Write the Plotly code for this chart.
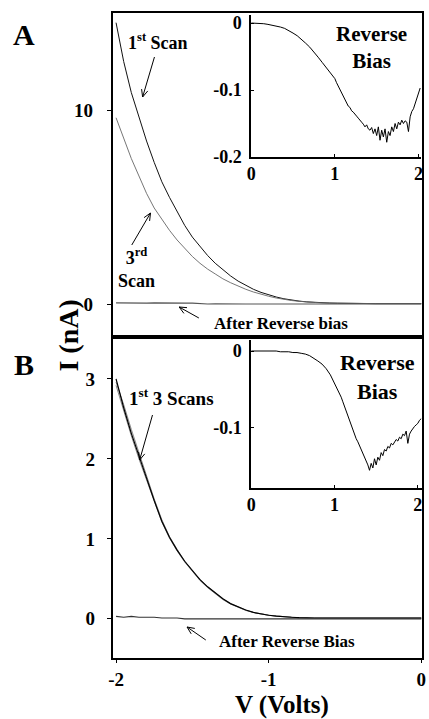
import numpy as np
import plotly.graph_objects as go

# ---------------- data ----------------
V = np.round(np.arange(-2.0, 0.001, 0.05), 2)  # sampling grid (Volts)

scanA_1st = [14.5, 12.5, 10.9, 9.6, 8.4, 7.3, 6.3, 5.5, 4.75, 4.05, 3.45, 2.95, 2.5, 2.1, 1.75,
             1.45, 1.18, 0.95, 0.76, 0.6, 0.47, 0.36, 0.27, 0.2, 0.15, 0.11, 0.08, 0.06, 0.05, 0.04,
             0.03, 0.03, 0.03, 0.02, 0.02, 0.02, 0.02, 0.02, 0.02, 0.02, 0.02]
scanA_3rd = [9.6, 8.5, 7.5, 6.6, 5.7, 4.95, 4.35, 3.8, 3.3, 2.85, 2.45, 2.1, 1.8, 1.55, 1.3,
             1.1, 0.92, 0.76, 0.62, 0.5, 0.4, 0.31, 0.24, 0.18, 0.14, 0.1, 0.08, 0.06, 0.05, 0.04,
             0.03, 0.03, 0.03, 0.02, 0.02, 0.02, 0.02, 0.02, 0.02, 0.02, 0.02]
afterA = [0.06, 0.05, 0.06, 0.05, 0.05, 0.06, 0.05, 0.05, 0.06, 0.05, 0.05, 0.01, 0.0, 0.01, 0.0,
          0.0, 0.01, 0.0, 0.0, 0.01, 0.0, 0.0, 0.0, 0.01, 0.0, 0.0, 0.0, 0.0, 0.01, 0.0,
          0.0, 0.0, 0.0, 0.0, 0.01, 0.0, 0.0, 0.0, 0.0, 0.0, 0.0]

scanB_1 = [3.0, 2.64, 2.32, 2.03, 1.76, 1.48, 1.22, 1.02, 0.86, 0.72, 0.6, 0.49, 0.4, 0.32, 0.25,
           0.19, 0.145, 0.11, 0.08, 0.06, 0.045, 0.035, 0.025, 0.02, 0.015, 0.01, 0.01, 0.01, 0.01, 0.01,
           0.01, 0.01, 0.01, 0.01, 0.01, 0.01, 0.01, 0.01, 0.01, 0.01, 0.01]
scanB_2 = [2.96, 2.68, 2.37, 2.07, 1.79, 1.5, 1.24, 1.03, 0.87, 0.72, 0.6, 0.49, 0.4, 0.32, 0.25,
           0.19, 0.145, 0.11, 0.08, 0.06, 0.045, 0.035, 0.025, 0.02, 0.015, 0.01, 0.01, 0.01, 0.01, 0.01,
           0.01, 0.01, 0.01, 0.01, 0.01, 0.01, 0.01, 0.01, 0.01, 0.01, 0.01]
scanB_3 = [2.92, 2.6, 2.29, 2.0, 1.73, 1.46, 1.21, 1.01, 0.85, 0.71, 0.59, 0.48, 0.39, 0.31, 0.24,
           0.185, 0.14, 0.105, 0.08, 0.06, 0.045, 0.035, 0.025, 0.02, 0.015, 0.01, 0.01, 0.01, 0.01, 0.01,
           0.01, 0.01, 0.01, 0.01, 0.01, 0.01, 0.01, 0.01, 0.01, 0.01, 0.01]
afterB = [0.03, 0.02, 0.03, 0.02, 0.02, 0.02, 0.01, 0.01, 0.01, 0.0, 0.0, 0.0, 0.0, 0.0, 0.0,
          0.0, 0.0, 0.0, 0.0, 0.0, 0.0, 0.0, 0.0, 0.0, 0.0, 0.0, 0.0, 0.0, 0.0, 0.0,
          0.0, 0.0, 0.0, 0.0, 0.0, 0.0, 0.0, 0.0, 0.0, 0.0, 0.0]

# inset (reverse bias) sampling grids
Vr_A = np.round(np.concatenate([np.arange(0, 0.99, 0.05), np.arange(1.0, 2.021, 0.02)]), 2)
Vr_B = np.round(np.concatenate([np.arange(0, 0.99, 0.05), np.arange(1.0, 2.041, 0.02)]), 2)

revA = [0, 0, -0.001, -0.001, -0.002, -0.003, -0.004, -0.006, -0.008, -0.011, -0.015, -0.019,
        -0.024, -0.03, -0.036, -0.043, -0.051, -0.059, -0.067, -0.075,
        -0.083, -0.089, -0.094, -0.1, -0.106, -0.11, -0.116, -0.119, -0.124, -0.126, -0.131,
        -0.133, -0.137, -0.139, -0.142, -0.146, -0.148, -0.151, -0.155, -0.152, -0.158, -0.16,
        -0.156, -0.165, -0.158, -0.168, -0.155, -0.175, -0.16, -0.17, -0.158, -0.178, -0.162,
        -0.168, -0.155, -0.162, -0.15, -0.158, -0.148, -0.152, -0.145, -0.15, -0.146, -0.148,
        -0.162, -0.14, -0.132, -0.128, -0.12, -0.115, -0.105, -0.097]
revB = [0, 0, 0, 0, 0, 0, 0, -0.001, -0.001, -0.001, -0.002, -0.002, -0.003, -0.004, -0.006,
        -0.009, -0.013, -0.017, -0.023, -0.031,
        -0.042, -0.046, -0.05, -0.056, -0.06, -0.066, -0.072, -0.078, -0.084, -0.09, -0.096,
        -0.104, -0.108, -0.114, -0.118, -0.123, -0.128, -0.132, -0.138, -0.142, -0.148, -0.155,
        -0.146, -0.152, -0.14, -0.148, -0.138, -0.142, -0.132, -0.136, -0.128, -0.13, -0.124,
        -0.126, -0.12, -0.122, -0.118, -0.115, -0.117, -0.112, -0.114, -0.108, -0.11, -0.104,
        -0.12, -0.108, -0.104, -0.1, -0.098, -0.096, -0.094, -0.09, -0.088]

main_x_ticks = [-2, -1, 0]
A_y_ticks = [0, 10]
B_y_ticks = [0, 1, 2, 3]
inset_x_ticks = [0, 1, 2]
insetA_y_ticks = [0, -0.1, -0.2]
insetB_y_ticks = [0, -0.1]

# ---------------- layout geometry ----------------
W, H = 429, 719
ML, MR, MT, MB = 113, 3, 13, 61
PW, PH = W - ML - MR, H - MT - MB


def px(x):
    return (x - ML) / PW


def py(y):
    return (H - MB - y) / PH


FONT = "Liberation Serif"
fig = go.Figure()

fig.add_trace(go.Scatter(x=V, y=scanA_1st, mode="lines", line=dict(color="#111111", width=1.0), xaxis="x", yaxis="y"))
fig.add_trace(go.Scatter(x=V, y=scanA_3rd, mode="lines", line=dict(color="#666666", width=0.9), xaxis="x", yaxis="y"))
fig.add_trace(go.Scatter(x=V, y=afterA, mode="lines", line=dict(color="#555555", width=1.2), xaxis="x", yaxis="y"))

fig.add_trace(go.Scatter(x=V, y=scanB_2, mode="lines", line=dict(color="#8a8a8a", width=1.0), xaxis="x2", yaxis="y2"))
fig.add_trace(go.Scatter(x=V, y=scanB_3, mode="lines", line=dict(color="#8a8a8a", width=1.0), xaxis="x2", yaxis="y2"))
fig.add_trace(go.Scatter(x=V, y=scanB_1, mode="lines", line=dict(color="black", width=1.2), xaxis="x2", yaxis="y2"))
fig.add_trace(go.Scatter(x=V, y=afterB, mode="lines", line=dict(color="#333333", width=1.2), xaxis="x2", yaxis="y2"))

fig.add_trace(go.Scatter(x=Vr_A, y=revA, mode="lines", line=dict(color="black", width=1.0), xaxis="x3", yaxis="y3"))
fig.add_trace(go.Scatter(x=Vr_B, y=revB, mode="lines", line=dict(color="black", width=1.0), xaxis="x4", yaxis="y4"))

split = py(337)
tickfont = dict(family=FONT, size=19, color="black", weight="bold")
itickfont = dict(family=FONT, size=18, color="black", weight="bold")

main_ax = dict(showline=True, linewidth=2.2, linecolor="black", mirror=True, showgrid=False,
               zeroline=False, ticks="outside", ticklen=4, tickcolor="black", tickfont=tickfont)
inset_ax = dict(showline=True, linewidth=1.5, linecolor="black", mirror=False, showgrid=False,
                zeroline=False, ticks="inside", ticklen=3, tickcolor="black", tickfont=itickfont)

fig.update_layout(
    width=W, height=H, margin=dict(l=ML, r=MR, t=MT, b=MB),
    paper_bgcolor="white", plot_bgcolor="white", showlegend=False,
    font=dict(family=FONT, color="black"),
    xaxis=dict(main_ax, domain=[0, 1], range=[-2.02, 0.005], anchor="y", tickvals=main_x_ticks,
               showticklabels=False, ticks=""),
    yaxis=dict(main_ax, domain=[split, 1], range=[-1.7, 15.0], anchor="x", tickvals=A_y_ticks,
               ticklabelstandoff=10),
    xaxis2=dict(main_ax, domain=[0, 1], range=[-2.02, 0.005], anchor="y2", tickvals=main_x_ticks,
                ticktext=["-2", "-1", "0"], ticklen=3),
    yaxis2=dict(main_ax, domain=[0, split], range=[-0.49, 3.525], anchor="x2", tickvals=B_y_ticks,
                ticklabelstandoff=8),
    xaxis3=dict(inset_ax, domain=[px(253), px(425)], range=[0, 2.03], anchor="y3", tickvals=inset_x_ticks),
    yaxis3=dict(inset_ax, domain=[py(157), py(15)], range=[-0.2, 0.012], anchor="x3",
                tickvals=insetA_y_ticks, ticktext=["0", "-0.1", "-0.2"], ticklabelstandoff=4),
    xaxis4=dict(inset_ax, domain=[px(253), px(426)], range=[0, 2.05], anchor="y4", tickvals=inset_x_ticks),
    yaxis4=dict(inset_ax, domain=[py(488), py(340)], range=[-0.178, 0.0143], anchor="x4",
                tickvals=insetB_y_ticks, ticktext=["0", "-0.1"], ticklabelstandoff=4),
)


def label(text, x, y, size, angle=0, xanchor="center"):
    fig.add_annotation(x=px(x), y=py(y), xref="paper", yref="paper", text=text, showarrow=False,
                       xanchor=xanchor, yanchor="middle", textangle=angle,
                       font=dict(family=FONT, size=size, color="black", weight="bold"))


label("A", 23, 35, 30)
label("B", 23, 364, 30)
label("I (nA)", 67, 336, 28, angle=-90)
label("V (Volts)", 284, 705, 25)
label("1<sup>st</sup> Scan", 159, 41, 18)
label("3<sup>rd</sup><br>Scan", 116, 268, 18, xanchor="left")
label("After Reverse bias", 283, 323, 17)
label("Reverse<br>Bias", 375, 48, 21)
label("1<sup>st</sup> 3 Scans", 172, 397, 19)
label("Reverse<br>Bias", 381, 377, 22)
label("After Reverse Bias", 289, 641, 17)


def arrow(tx, ty, hx, hy, wing=8, spread=0.42):
    ang = np.arctan2(ty - hy, tx - hx)
    p1 = (hx + wing * np.cos(ang + spread), hy + wing * np.sin(ang + spread))
    p2 = (hx + wing * np.cos(ang - spread), hy + wing * np.sin(ang - spread))
    path = (f"M {px(tx)},{py(ty)} L {px(hx)},{py(hy)} "
            f"M {px(p1[0])},{py(p1[1])} L {px(hx)},{py(hy)} L {px(p2[0])},{py(p2[1])}")
    fig.add_shape(type="path", path=path, xref="paper", yref="paper", line=dict(color="black", width=1))


arrow(155, 57, 143, 97)
arrow(132, 245, 151, 213)
arrow(200, 318, 180, 307)
arrow(153, 415, 140, 460)
arrow(207, 640, 188, 627)

fig.write_html("out.html")
